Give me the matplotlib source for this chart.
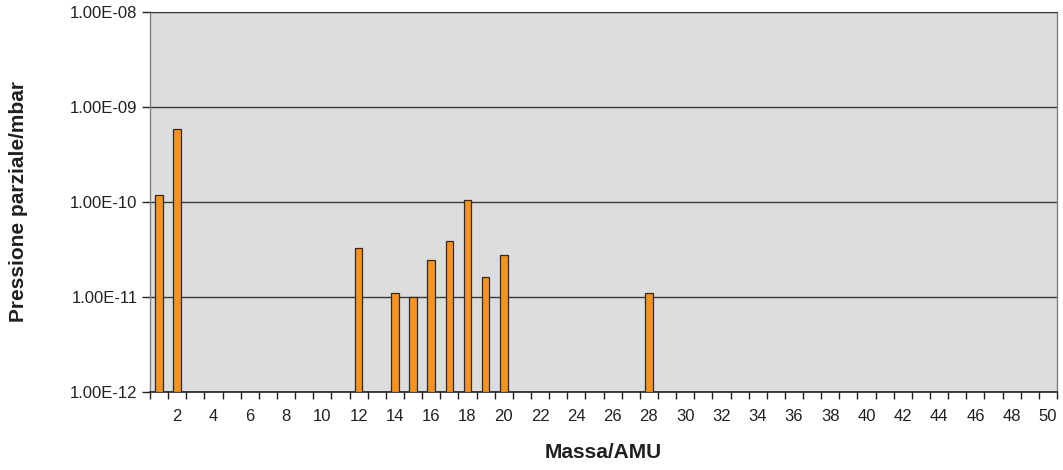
import matplotlib
matplotlib.use("Agg")
import matplotlib.pyplot as plt
from matplotlib.ticker import FixedLocator, NullLocator, FuncFormatter

plt.rcParams.update({"font.family": ["Liberation Sans", "DejaVu Sans"]})

# partial pressure (mbar) per mass (AMU), only non-empty channels
MASSES = [1, 2, 12, 14, 15, 16, 17, 18, 19, 20, 28]
PRESSURES = [1.19e-10, 5.8e-10, 3.27e-11, 1.10e-11, 1.01e-11, 2.46e-11,
             3.87e-11, 1.05e-10, 1.64e-11, 2.80e-11, 1.10e-11]
LABEL_MASSES = list(range(2, 51, 2))
Y_TICKS = [1e-12, 1e-11, 1e-10, 1e-9, 1e-8]

BG, GRID, TXT, ORANGE = "#DCDDDF", "#3A3A3A", "#231F20", "#F7931E"
FLOOR = 1e-12

fig = plt.figure(figsize=(10.63, 4.70), dpi=100)
ax = fig.add_axes([0.1411, 0.166, 0.8533, 0.8085])
ax.set_facecolor(BG)

ax.set_yscale("log")
ax.set_ylim(FLOOR, 1e-8)
ax.set_xlim(0.5, 50.5)

ax.bar(MASSES, [p - FLOOR for p in PRESSURES], bottom=FLOOR, width=0.42,
       color=ORANGE, edgecolor="#2B2B2B", linewidth=0.9, zorder=3)

ax.yaxis.set_major_locator(FixedLocator(Y_TICKS))
ax.yaxis.set_minor_locator(NullLocator())
ax.yaxis.set_major_formatter(FuncFormatter(lambda v, p: f"{v:.2E}"))
ax.grid(axis="y", which="major", color=GRID, linewidth=1.0, zorder=1)

ax.xaxis.set_major_locator(FixedLocator(LABEL_MASSES))
ax.xaxis.set_minor_locator(FixedLocator([m + 0.5 for m in range(0, 51)]))
ax.tick_params(axis="x", which="major", length=0, pad=12, labelsize=12, labelcolor=TXT)
ax.tick_params(axis="x", which="minor", length=5, width=1, color=TXT, direction="out")
ax.tick_params(axis="y", which="major", length=6, width=1, color=TXT, direction="out",
               labelsize=12, labelcolor=TXT, pad=3)

for s in ("left", "right"):
    ax.spines[s].set_color("#808080")
    ax.spines[s].set_linewidth(1.0)
ax.spines["top"].set_color(GRID)
ax.spines["bottom"].set_color(TXT)
ax.spines["bottom"].set_linewidth(1.2)

ax.set_ylabel("Pressione parziale/mbar", fontsize=15, fontweight="bold", color=TXT, labelpad=30)
ax.set_xlabel("Massa/AMU", fontsize=15, fontweight="bold", color=TXT, labelpad=14)

fig.savefig("out.png", dpi=100)
